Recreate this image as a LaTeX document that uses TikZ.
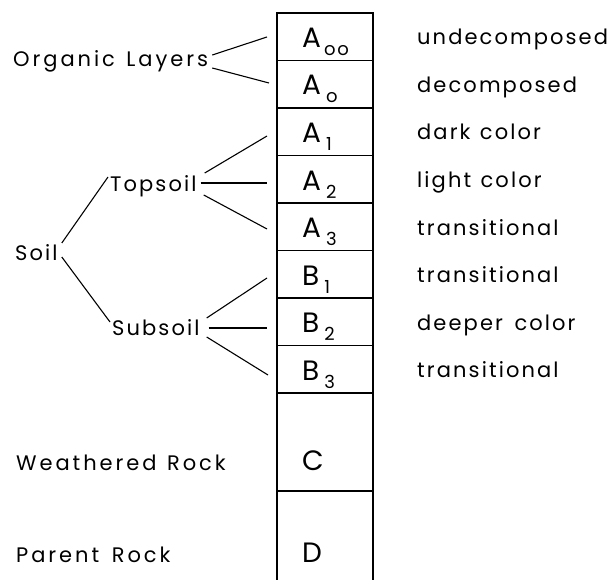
\documentclass[tikz,border=0pt]{standalone}
\usepackage{fontspec}
\setmainfont{Poppins}[LetterSpace=10]
\newcommand{\sbs}[1]{\hspace{5pt}\raisebox{-8pt}{\fontsize{18}{18}\selectfont #1}}
\newcommand{\wsp}{\hspace{0.45em}}
\begin{document}
\begin{tikzpicture}[x=1pt,y=-1pt,
  txt/.style={anchor=base west, inner sep=0pt, font=\fontsize{21}{21}\selectfont},
  orgtxt/.style={txt, font=\fontsize{21}{21}\addfontfeatures{LetterSpace=14}},
  hz/.style={anchor=base west, inner sep=0pt, font=\fontsize{28}{28}\selectfont},
  conn/.style={line width=1.1pt},
  col/.style={line width=1.2pt}]
\useasboundingbox (0,0) rectangle (610,580);
% column
\coordinate (ctl) at (277,13);
\coordinate (ctr) at (373,13);
\coordinate (cbl) at (277,580);
\coordinate (cbr) at (373,580);
\draw[col] (cbl) -- (ctl) -- (ctr) -- (cbr);
\foreach \yy in {60.5,108,155.5,203,250.5,298,345.5,393,491}
  \draw[col] (277,\yy) -- (373,\yy);
% horizon symbols
\node[hz] (a00) at (302,47.5) {A\hspace{3pt}\raisebox{-8pt}{\fontsize{18}{18}\selectfont oo}};
\node[hz] (a0) at (302,95) {A\sbs{o}};
\node[hz] (a1) at (302,142.5) {A\sbs{1}};
\node[hz] (a2) at (302,190) {A\sbs{2}};
\node[hz] (a3) at (302,237.5) {A\sbs{3}};
\node[hz] (b1) at (302,285) {B\sbs{1}};
\node[hz] (b2) at (302,332.5) {B\sbs{2}};
\node[hz] (b3) at (302,380) {B\sbs{3}};
\node[hz] (c) at (302,470) {C};
\node[hz] (d) at (302,562) {D};
% descriptions
\node[txt] (t1) at (417,45) {undecomposed};
\node[txt] (t2) at (417,92.5) {decomposed};
\node[txt] (t3) at (417,140) {dark\wsp color};
\node[txt] (t4) at (417,187.5) {light\wsp color};
\node[txt] (t5) at (417,235) {transitional};
\node[txt] (t6) at (417,282.5) {transitional};
\node[txt] (t7) at (417,330) {deeper\hspace{0.55em}color};
\node[txt] (t8) at (417,377.5) {transitional};
% left labels
\node[orgtxt] (org) at (13,67) {Organic\hspace{0.55em}Layers};
\node[txt] (top) at (110,192) {Topsoil};
\node[txt] (soil) at (15,260) {Soil};
\node[txt] (sub) at (112,335) {Subsoil};
\node[orgtxt] (wr) at (16,470) {Weathered\hspace{0.5em}Rock};
\node[orgtxt] (pr) at (16,562) {Parent\hspace{0.6em}Rock};
% connector ends at the column
\coordinate (e00) at (267,37);
\coordinate (e0) at (269,83);
\coordinate (e1) at (267,136);
\coordinate (e2) at (267,183);
\coordinate (e3) at (267,229);
\coordinate (f1) at (267,278);
\coordinate (f2) at (267,328);
\coordinate (f3) at (268,375);
% connectors
\draw[conn] ([xshift=4pt,yshift=12pt]org.base east) -- (e00);
\draw[conn] ([xshift=4pt,yshift=-1pt]org.base east) -- (e0);
\draw[conn] ([xshift=8pt,yshift=19pt]top.base east) -- (e1);
\draw[conn] ([xshift=4pt,yshift=9pt]top.base east) -- (e2);
\draw[conn] ([xshift=7pt,yshift=-3pt]top.base east) -- (e3);
\draw[conn] ([xshift=7pt,yshift=17pt]sub.base east) -- (f1);
\draw[conn] ([xshift=9pt,yshift=7pt]sub.base east) -- (f2);
\draw[conn] ([xshift=7pt,yshift=-2pt]sub.base east) -- (f3);
\draw[conn] ([xshift=4pt,yshift=17pt]soil.base east) -- ([xshift=-2pt,yshift=15pt]top.base west);
\draw[conn] ([xshift=4pt,yshift=3pt]soil.base east) -- ([xshift=-2pt,yshift=13pt]sub.base west);
\end{tikzpicture}
\end{document}
